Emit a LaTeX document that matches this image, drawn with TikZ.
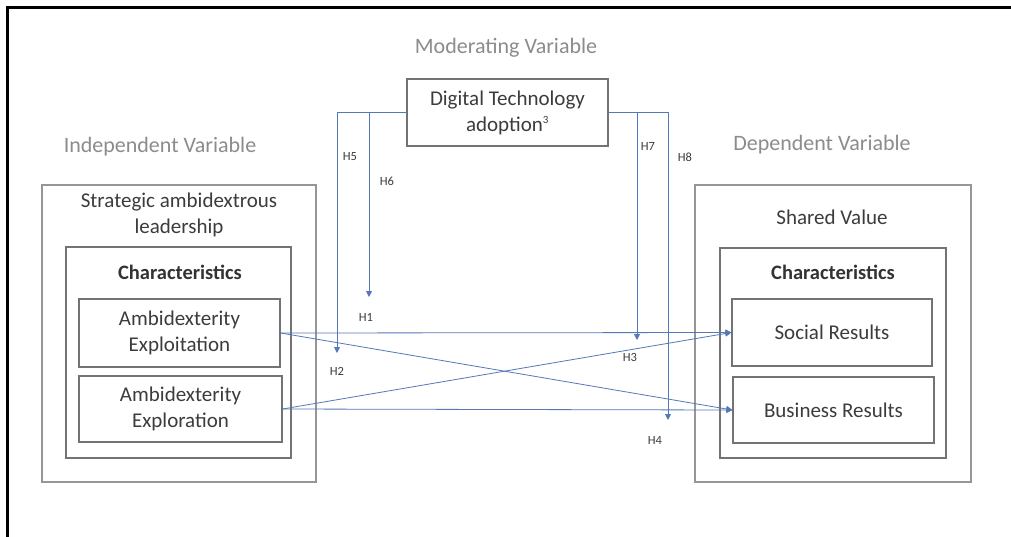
\documentclass[tikz,border=0pt]{standalone}
\usepackage{fontspec}
\setmainfont{Carlito}
\usetikzlibrary{arrows.meta}
\definecolor{boxgray}{RGB}{115,115,115}
\definecolor{outergray}{RGB}{150,150,150}
\definecolor{headgray}{RGB}{140,140,140}
\definecolor{txtgray}{RGB}{60,60,60}
\definecolor{linkblue}{RGB}{85,120,185}
\begin{document}
\begin{tikzpicture}[x=1pt,y=-1pt,
  box/.style={draw=boxgray, line width=1.2pt, inner sep=0pt, align=center,
    text=txtgray, font=\fontsize{21}{26}\selectfont},
  outerbox/.style={draw=outergray, line width=1.4pt, inner sep=0pt},
  heading/.style={text=headgray, inner sep=0pt, font=\fontsize{22}{26}\selectfont},
  boxtext/.style={text=txtgray, inner sep=0pt, align=center, font=\fontsize{21}{26}\selectfont},
  chartext/.style={text=black!80, inner sep=0pt, font=\fontsize{20.5}{24}\selectfont\bfseries},
  hlabel/.style={text=txtgray, inner sep=0pt, font=\fontsize{12.5}{14}\selectfont},
  link/.style={draw=linkblue, line width=0.8pt, -{Triangle[length=6pt,width=6pt]}}]
\useasboundingbox (0,0) rectangle (1011,536);
\fill[white] (0,0) rectangle (1011,536);
% frame
\draw[line width=2.4pt, line cap=rect] (7.5,536) -- (7.5,7.5) -- (1011,7.5);

% headings
\node[heading] (modh) at (506,48) {Moderating Variable};
\node[heading] (indh) at (160,147) {Independent Variable};
\node[heading] (deph) at (822,145) {Dependent Variable};

% moderator box
\node[box, minimum width=201pt, minimum height=67pt] (dig) at (507.5,112.5)
  {Digital Technology\\adoption\textsuperscript{\fontsize{11}{12}\selectfont 3}};

% left side
\node[outerbox, minimum width=274pt, minimum height=297pt] (lout) at (179,333.5) {};
\node[boxtext] (sal) at (179,215) {Strategic ambidextrous\\leadership};
\node[box, minimum width=225pt, minimum height=211pt] (lmid) at (178.5,352.5) {};
\node[chartext] (lchar) at (180,272) {Characteristics};
\node[box, minimum width=201pt, minimum height=68pt] (expt) at (179.5,333) {Ambidexterity\\Exploitation};
\node[box, minimum width=203pt, minimum height=66pt] (expl) at (180.5,409) {Ambidexterity\\Exploration};

% right side
\node[outerbox, minimum width=276pt, minimum height=297pt] (rout) at (833,333.5) {};
\node[boxtext] (sv) at (832,217) {Shared Value};
\node[box, minimum width=226pt, minimum height=210pt] (rmid) at (833,353) {};
\node[chartext] (rchar) at (833,272) {Characteristics};
\node[box, minimum width=200pt, minimum height=67pt] (soc) at (832,332.5) {Social Results};
\node[box, minimum width=201pt, minimum height=66pt] (bus) at (833.5,410) {Business Results};

% main links
\draw[link] (expt.east) -- (soc.west);
\draw[link] (expt.east) -- (bus.west);
\draw[link] (expl.east) -- (soc.west);
\draw[link] (expl.east) -- (bus.west);

% moderator links
\coordinate (h5end) at (337,353);
\coordinate (h6end) at (369,297);
\coordinate (h7end) at (637,340);
\coordinate (h8end) at (668,420);
\draw[link] (dig.west) -| (h5end);
\draw[link] (h6end |- dig.west) -- (h6end);
\draw[link] (dig.east) -| (h8end);
\draw[link] (h7end |- dig.east) -- (h7end);

% hypothesis labels
\node[hlabel] (H5) at (350,157) {H5};
\node[hlabel] (H6) at (387,181) {H6};
\node[hlabel] (H7) at (648,146) {H7};
\node[hlabel] (H8) at (685,157) {H8};
\node[hlabel] (H1) at (366,317) {H1};
\node[hlabel] (H2) at (337,371) {H2};
\node[hlabel] (H3) at (630,357) {H3};
\node[hlabel] (H4) at (655,440) {H4};
\end{tikzpicture}
\end{document}
